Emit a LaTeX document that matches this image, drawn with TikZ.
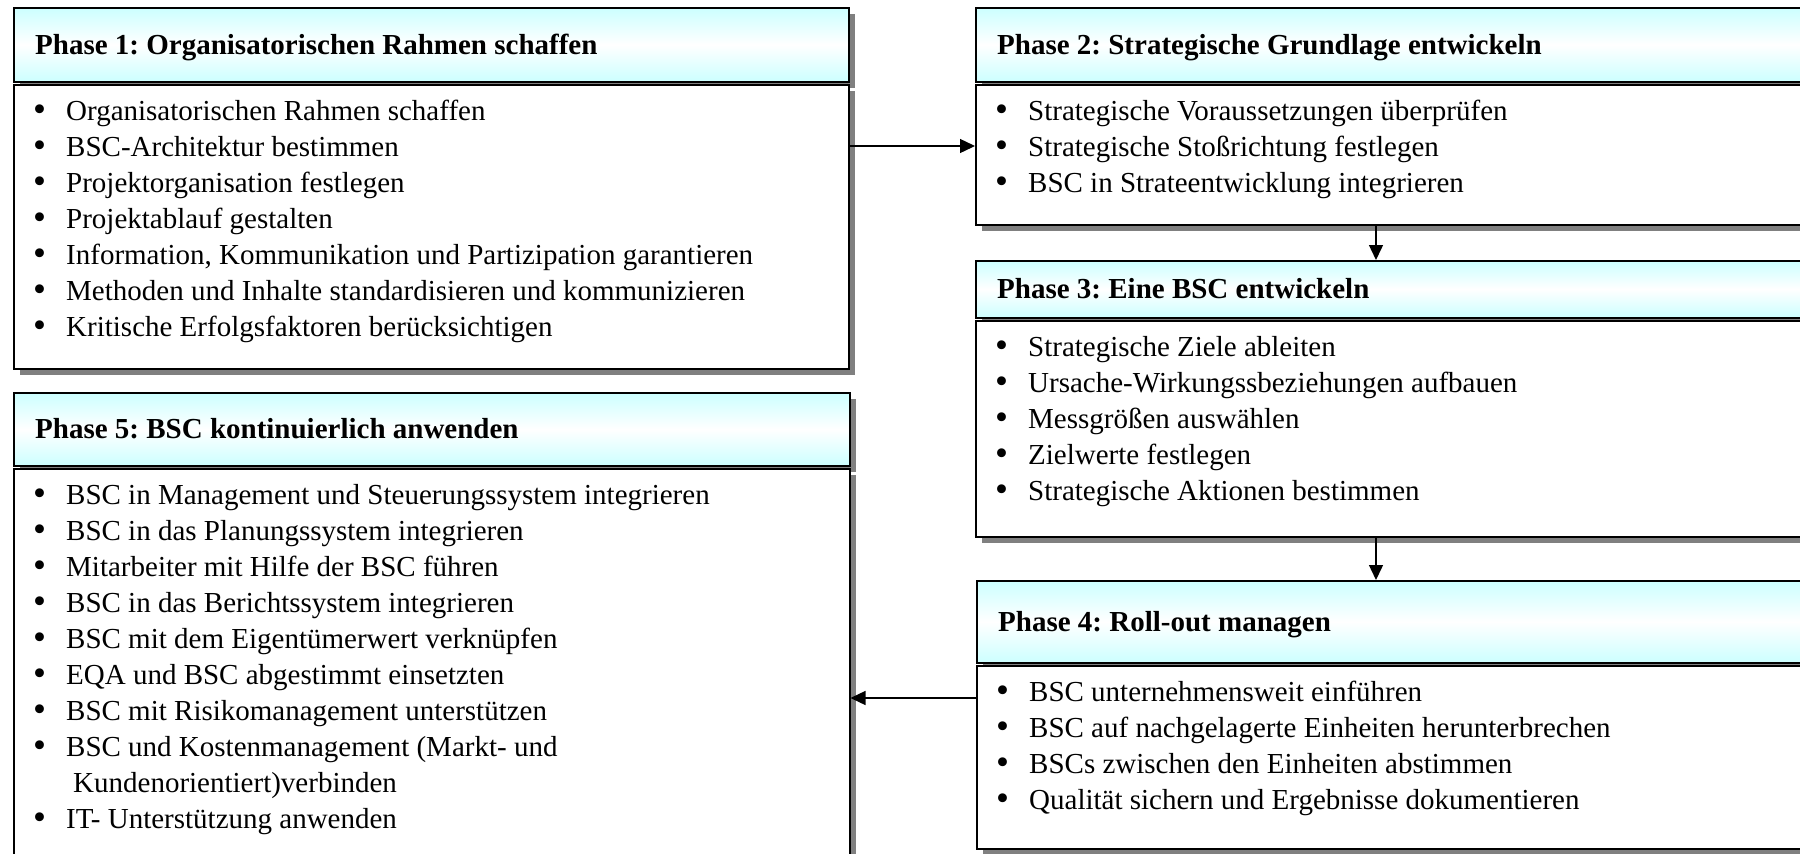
\documentclass[tikz,border=0pt]{standalone}
\usepackage{fontspec}
\setmainfont{Liberation Serif}
\usetikzlibrary{arrows.meta,shadows,calc}
\frenchspacing

\definecolor{hdrcyan}{HTML}{CCFFFF}
\definecolor{shadowgray}{HTML}{808080}
% header fill: cyan at the edges, white in the middle
\pgfdeclareverticalshading{hdrshade}{100bp}{color(0bp)=(hdrcyan); color(25bp)=(hdrcyan); color(50bp)=(white); color(75bp)=(hdrcyan); color(100bp)=(hdrcyan)}

\tikzset{
  box/.style={draw=black, line width=1.5pt, rectangle, inner sep=0pt, anchor=north west,
    drop shadow={shadow xshift=6pt, shadow yshift=-6pt, fill=shadowgray, opacity=1}},
  hdrbox/.style={box, shade, shading=hdrshade},
  bodybox/.style={box, fill=white},
  hdrtext/.style={anchor=base west, inner sep=0pt, font=\fontsize{29}{36}\selectfont\bfseries},
  item/.style={anchor=base west, inner sep=0pt, font=\fontsize{29}{36}\selectfont},
  arr/.style={line width=1.4pt, -{Triangle[length=15pt,width=14pt]}}
}
% bullet set a little larger than the text, then the item text
\newcommand{\bul}[1]{\makebox[33pt][l]{\raisebox{-1.2pt}{\fontsize{37}{36}\selectfont\textbullet}}#1}

\begin{document}
\begin{tikzpicture}[x=1pt,y=-1pt]
\useasboundingbox (0,0) rectangle (1800,854);
\clip (0,0) rectangle (1800,854);

% Phase 1
\node[hdrbox, minimum width=835pt, minimum height=74pt] (h1) at (13,7) {};
\node[bodybox, minimum width=835pt, minimum height=284pt] (b1) at (13,84) {};
\node[hdrtext] (h1t) at ($(h1.north west)+(22,47)$) {Phase 1: Organisatorischen Rahmen schaffen};
\foreach \t [count=\i from 0] in {Organisatorischen Rahmen schaffen, BSC-Architektur bestimmen,
  Projektorganisation festlegen, Projektablauf gestalten,
  {Information, Kommunikation und Partizipation garantieren},
  Methoden und Inhalte standardisieren und kommunizieren,
  Kritische Erfolgsfaktoren berücksichtigen}
  \node[item] (p1i\i) at ($(b1.north west)+(20,36+36*\i)$) {\bul{\t}};

% Phase 2
\node[hdrbox, minimum width=840pt, minimum height=74pt] (h2) at (975,7) {};
\node[bodybox, minimum width=840pt, minimum height=140pt] (b2) at (975,84) {};
\node[hdrtext] (h2t) at ($(h2.north west)+(22,47)$) {Phase 2: Strategische Grundlage entwickeln};
\foreach \t [count=\i from 0] in {Strategische Voraussetzungen überprüfen,
  Strategische Stoßrichtung festlegen, BSC in Strateentwicklung integrieren}
  \node[item] (p2i\i) at ($(b2.north west)+(20,36+36*\i)$) {\bul{\t}};

% Phase 3
\node[hdrbox, minimum width=840pt, minimum height=57pt] (h3) at (975,260) {};
\node[bodybox, minimum width=840pt, minimum height=216pt] (b3) at (975,320) {};
\node[hdrtext] (h3t) at ($(h3.north west)+(22,38)$) {Phase 3: Eine BSC entwickeln};
\foreach \t [count=\i from 0] in {Strategische Ziele ableiten,
  Ursache-Wirkungssbeziehungen aufbauen, Messgrößen auswählen,
  Zielwerte festlegen, Strategische Aktionen bestimmen}
  \node[item] (p3i\i) at ($(b3.north west)+(20,36+36*\i)$) {\bul{\t}};

% Phase 4
\node[hdrbox, minimum width=840pt, minimum height=82pt] (h4) at (976,580) {};
\node[bodybox, minimum width=840pt, minimum height=183pt] (b4) at (976,665) {};
\node[hdrtext] (h4t) at ($(h4.north west)+(22,51)$) {Phase 4: Roll-out managen};
\foreach \t [count=\i from 0] in {BSC unternehmensweit einführen,
  BSC auf nachgelagerte Einheiten herunterbrechen,
  BSCs zwischen den Einheiten abstimmen,
  Qualität sichern und Ergebnisse dokumentieren}
  \node[item] (p4i\i) at ($(b4.north west)+(20,36+36*\i)$) {\bul{\t}};

% Phase 5
\node[hdrbox, minimum width=836pt, minimum height=73pt] (h5) at (13,392) {};
\node[bodybox, minimum width=836pt, minimum height=420pt] (b5) at (13,468) {};
\node[hdrtext] (h5t) at ($(h5.north west)+(22,46)$) {Phase 5: BSC kontinuierlich anwenden};
\foreach \t [count=\i from 0] in {BSC in Management und Steuerungssystem integrieren,
  BSC in das Planungssystem integrieren, Mitarbeiter mit Hilfe der BSC führen,
  BSC in das Berichtssystem integrieren, BSC mit dem Eigentümerwert verknüpfen,
  EQA und BSC abgestimmt einsetzten, BSC mit Risikomanagement unterstützen,
  BSC und Kostenmanagement (Markt- und}
  \node[item] (p5i\i) at ($(b5.north west)+(20,36+36*\i)$) {\bul{\t}};
\node[item] (p5wrap) at ($(b5.north west)+(60,324)$) {Kundenorientiert)verbinden};
\node[item] (p5i8) at ($(b5.north west)+(20,360)$) {\bul{IT- Unterstützung anwenden}};

% connectors between the phases
\coordinate (y12) at (0,146);
\coordinate (xv) at (1376,0);
\coordinate (y45) at (0,698);
\draw[arr] (b1.east |- y12) -- (b2.west |- y12);
\draw[arr] (b2.south -| xv) -- (h3.north -| xv);
\draw[arr] (b3.south -| xv) -- (h4.north -| xv);
\draw[arr] (b4.west |- y45) -- (b5.east |- y45);
\end{tikzpicture}
\end{document}
